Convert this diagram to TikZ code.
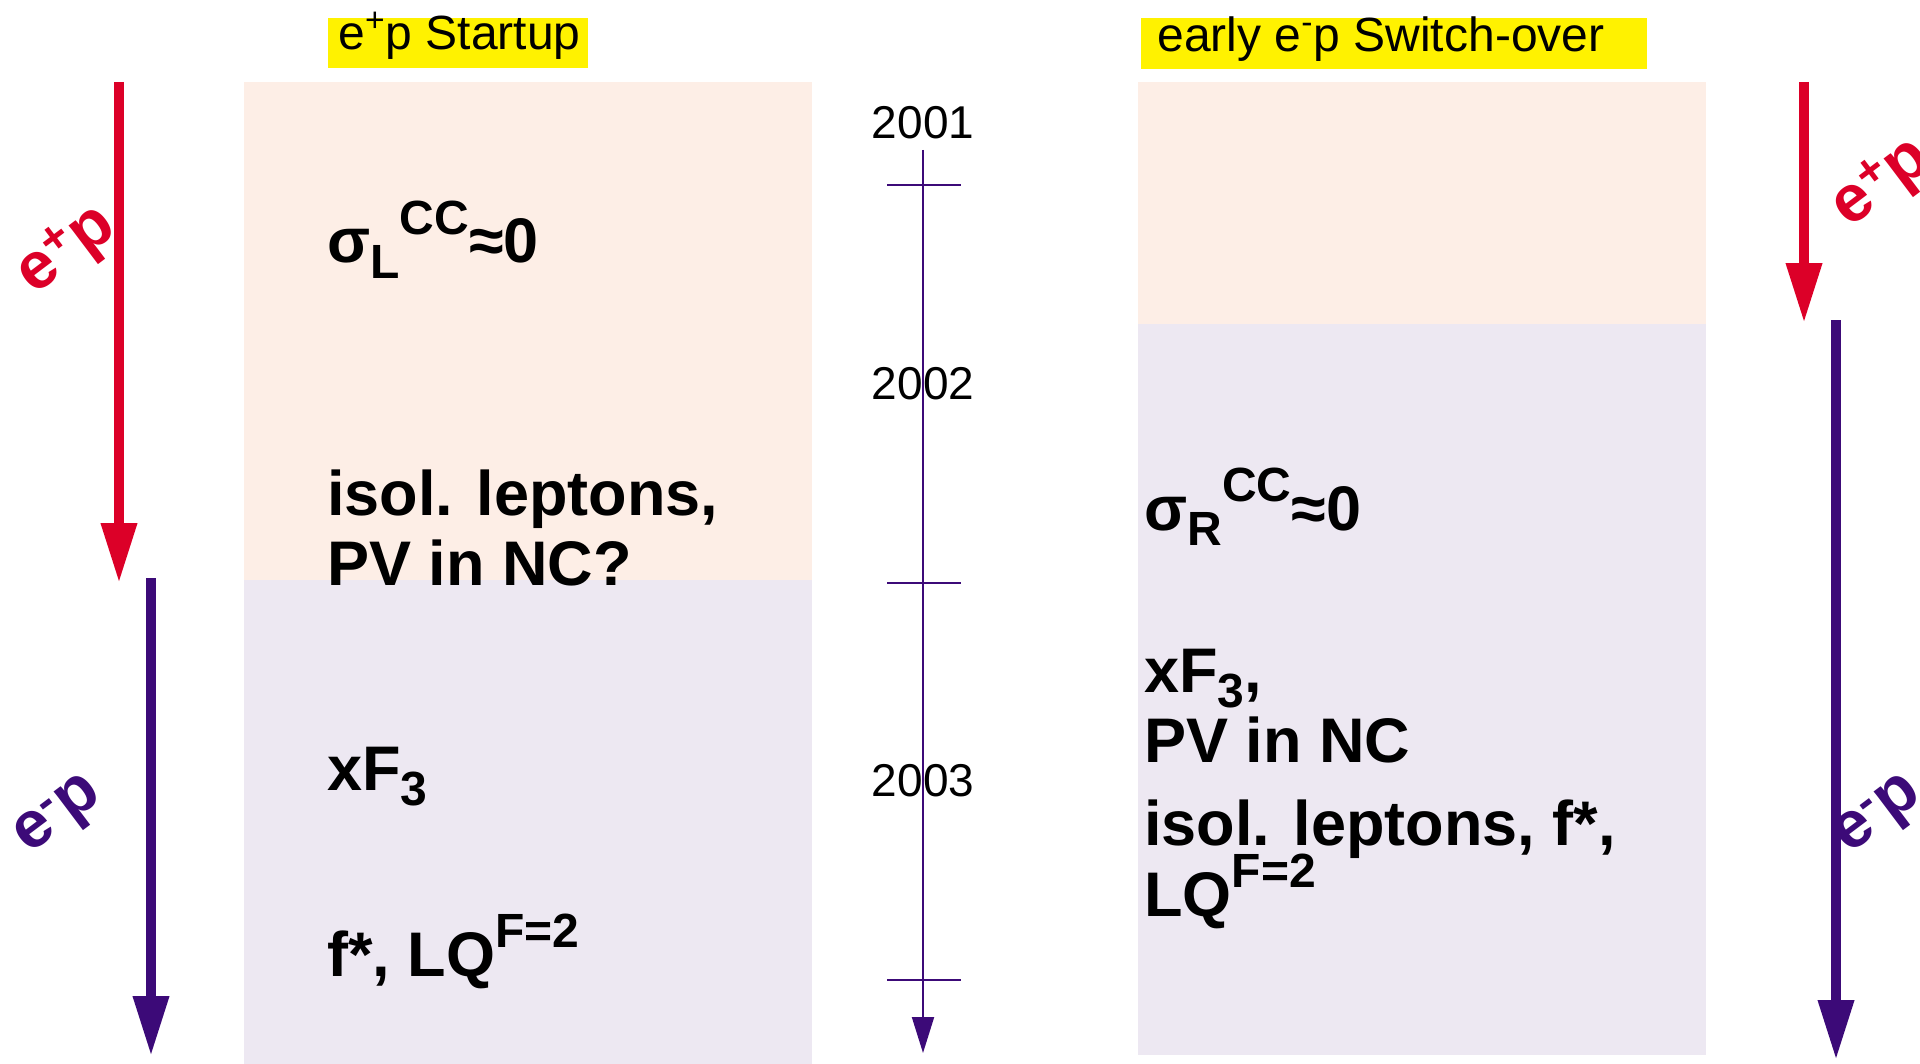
\documentclass[tikz,border=0pt]{standalone}
\usepackage{fontspec}
\setmainfont{Liberation Sans}
\usepackage{tikz}
\usetikzlibrary{arrows.meta,positioning,calc}

\definecolor{hred}{RGB}{220,0,40}
\definecolor{hpurple}{RGB}{60,10,120}
\definecolor{pinkbg}{RGB}{253,238,230}
\definecolor{lilacbg}{RGB}{237,232,242}

\newcommand{\bigfont}{\fontsize{31.5}{36}\selectfont\bfseries}
\newcommand{\lowtag}[1]{\raisebox{-0.25em}{\fontsize{24}{24}\selectfont #1}}
\newcommand{\hightag}[1]{\raisebox{0.45em}{\fontsize{24}{24}\selectfont #1}}

\begin{document}
\begin{tikzpicture}[x=0.5pt,y=-0.5pt,
			big/.style={anchor=base west, inner sep=0pt, font=\bigfont},
			year/.style={anchor=base, inner sep=0pt, font=\fontsize{23}{26}\selectfont},
			head/.style={anchor=base west, inner sep=0pt, font=\fontsize{24}{28}\selectfont},
			beam/.style={rotate=37, inner sep=0pt, font=\fontsize{33}{36}\selectfont\bfseries},
			fat/.style={line width=5pt, -{Triangle[width=17pt,length=30pt]}},
			timel/.style={hpurple, line width=1pt}]
		\clip (0,0) rectangle (1920,1064);
		% panels
		\fill [pinkbg] (244,82) rectangle (812,580);
		\fill [lilacbg] (244,580) rectangle (812,1064);
		\fill [pinkbg] (1138,82) rectangle (1706,324);
		\fill [lilacbg] (1138,324) rectangle (1706,1055);
		\fill [yellow] (328,18) rectangle (588,68);
		\fill [yellow] (1141,18) rectangle (1647,69);
		\path 	(338,50) 	node 	(hdA) [head] {e\textsuperscript{+}p Startup}
		        (1157,52) 	node 	(hdB) [head] {early e\textsuperscript{-}p Switch-over};
		% time axis
		\path 	(923,150) coordinate (t0)
		        (923,1053) coordinate (t1);
		\draw [timel, -{Triangle[width=11pt,length=18pt]}] (t0) -- (t1);
		\foreach \y in {185,583,980}
			\draw [timel] (887,\y) -- (961,\y);
		\path 	(923,139) 	node 	(y1) [year] {2001}
		        (923,399) 	node 	(y2) [year] {2002}
		        (923,796) 	node 	(y3) [year] {2003};
		% beams
		\path 	(119,82) coordinate (pl0)   (119,583) coordinate (pl1)
		        (151,578) coordinate (el0)  (151,1056) coordinate (el1)
		        (1804,82) coordinate (pr0)  (1804,323) coordinate (pr1)
		        (1836,320) coordinate (er0) (1836,1060) coordinate (er1);
		\draw [fat, hred] (pl0) -- (pl1);
		\draw [fat, hpurple] (el0) -- (el1);
		\draw [fat, hred] (pr0) -- (pr1);
		\draw [fat, hpurple] (er0) -- (er1);
		\path 	(67,251) 	node 	(bpL) [beam, hred] {e\textsuperscript{+}p}
		        (60,818) 	node 	(beL) [beam, hpurple] {e\textsuperscript{-}p}
		        (1882,184) 	node 	(bpR) [beam, hred] {e\textsuperscript{+}p}
		        (1880,818) 	node 	(beR) [beam, hpurple] {e\textsuperscript{-}p};
		% physics
		\path 	(327,263) 	node 	(sigL) [big] {σ\lowtag{L}\hightag{CC}≈0}
		        (327,515) 	node 	(isoL) [big] {isol. leptons,}
		        (327,585) 	node 	(pvL)  [big] {PV in NC?}
		        (327,790) 	node 	(xfL)  [big] {xF\lowtag{3}}
		        (327,976) 	node 	(lqL)  [big] {f*, LQ\hightag{F=2}};
		\path 	(1144,530) 	node 	(sigR) [big] {σ\lowtag{R}\hightag{CC}≈0}
		        (1144,692) 	node 	(xfR)  [big] {xF\lowtag{3},}
		        (1144,762) 	node 	(pvR)  [big] {PV in NC}
		        (1144,845) 	node 	(isoR) [big] {isol. leptons, f*,}
		        (1144,916) 	node 	(lqR)  [big] {LQ\hightag{F=2}};
	\end{tikzpicture}
\end{document}
